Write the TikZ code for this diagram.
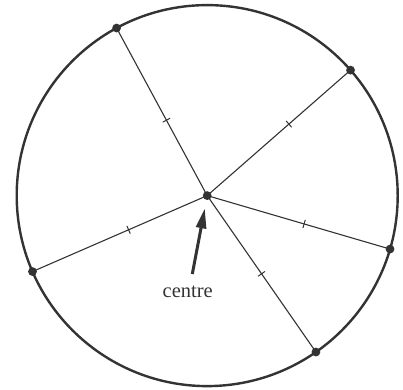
\documentclass[tikz,border=0pt]{standalone}
\usepackage{fontspec}
\setmainfont{Liberation Serif}
\usetikzlibrary{calc,arrows.meta}
\definecolor{ink}{HTML}{333333}
\tikzset{
  rim/.style={draw=ink, line width=2.4pt},
  radius line/.style={draw=ink, line width=1.1pt},
  dot/.style={circle, fill=ink, inner sep=0pt, minimum size=8.8pt},
  tickmark/.style={draw=ink, line width=1pt},
  pointer/.style={draw=ink, line width=3pt, -{Triangle[length=20pt,width=10pt]}, shorten >=13pt},
  lbl/.style={font=\fontsize{20.5}{24}\selectfont, text=ink, inner sep=0pt}
}
\begin{document}
\begin{tikzpicture}[x=1pt,y=-1pt]
\useasboundingbox (0,0) rectangle (403,389);
\coordinate (c) at (207.2,195.6);
\draw[rim] (c) circle[radius=190.5];
\foreach \i/\a/\f in {1/118.4/0.45, 2/41.2/0.57, 3/-16.3/0.53, 4/-55.2/0.50, 5/203.5/0.45}{
  \coordinate (p\i) at ($(c)+(\a:190.5 and -190.5)$);
  \draw[radius line] (c) -- (p\i);
  \coordinate (t\i) at ($(c)!\f!(p\i)$);
  \draw[tickmark] ($(t\i)!4.2pt!90:(p\i)$) -- ($(t\i)!4.2pt!-90:(p\i)$);
  \node[dot] (d\i) at (p\i) {};
}
\node[dot] (dc) at (c) {};
\node[lbl] (lab) at (187.7,292) {centre};
\coordinate (s) at (192.3,274);
\draw[pointer] (s) -- (c);
\end{tikzpicture}
\end{document}
